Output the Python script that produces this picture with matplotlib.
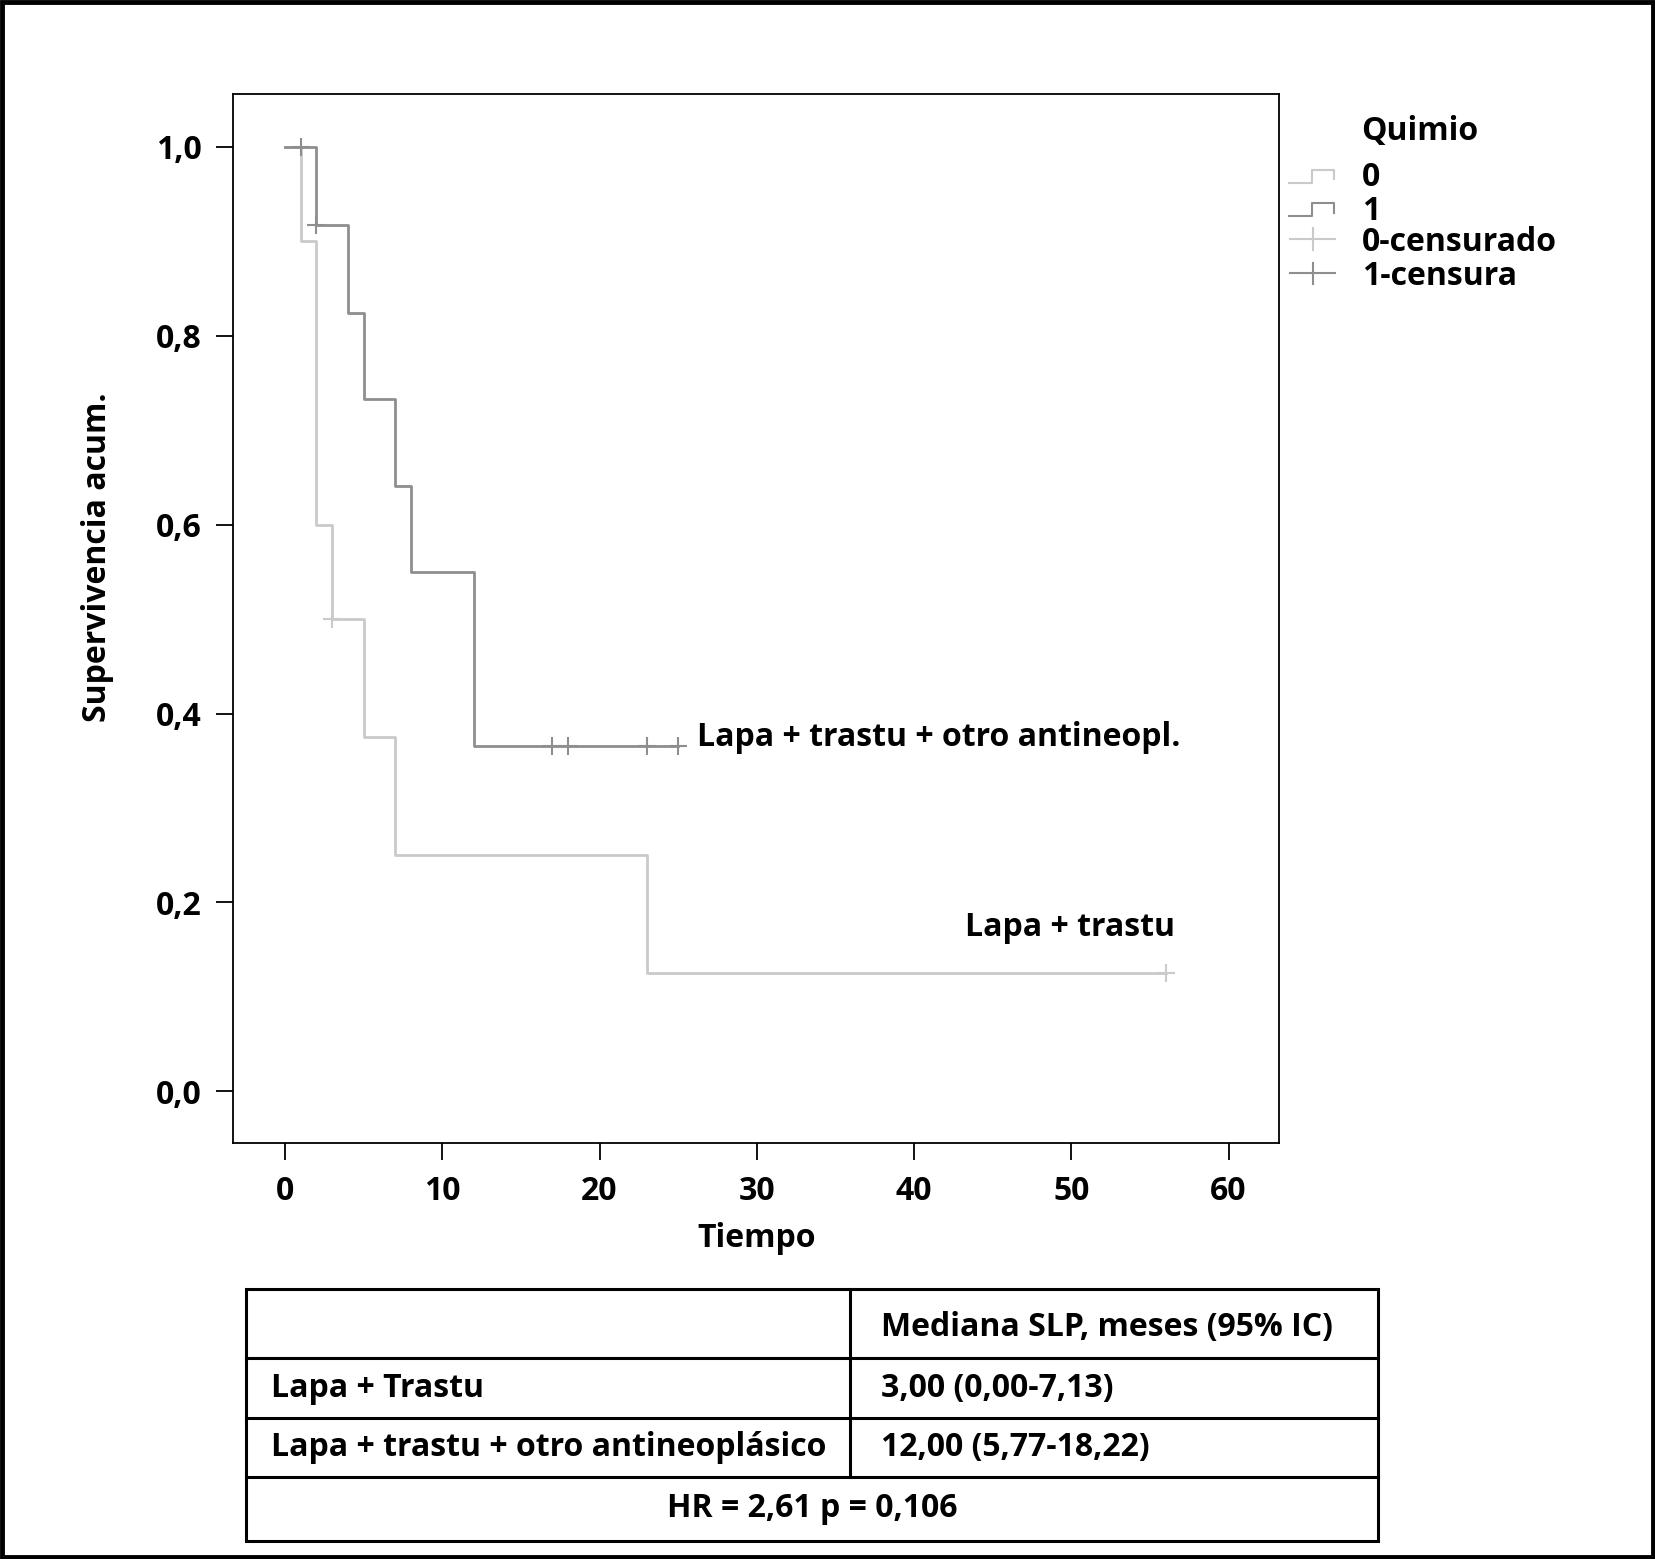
import matplotlib
matplotlib.use("Agg")
import matplotlib.pyplot as plt
from matplotlib.patches import Rectangle

plt.rcParams['font.family'] = ['Open Sans', 'DejaVu Sans']
plt.rcParams['font.weight'] = 'bold'
plt.rcParams['axes.labelweight'] = 'bold'

# ---------------- data ----------------
t0 = [0, 1, 2, 3, 5, 7, 23, 56]
s0 = [1.0, 0.9, 0.6, 0.5, 0.375, 0.25, 0.125, 0.125]
c0_t = [3, 56]
c0_s = [0.5, 0.125]

t1 = [0, 2, 4, 5, 7, 8, 12, 25]
s1 = [1.0, 0.917, 0.824, 0.733, 0.641, 0.55, 0.366, 0.366]
c1_t = [1, 2, 17, 18, 23, 25]
c1_s = [1.0, 0.917, 0.366, 0.366, 0.366, 0.366]

xticks = [0, 10, 20, 30, 40, 50, 60]
yticks = [0.0, 0.2, 0.4, 0.6, 0.8, 1.0]
ytick_labels = ["0,0", "0,2", "0,4", "0,6", "0,8", "1,0"]

legend_title = "Quimio"
legend_labels = ["0", "1", "0-censurado", "1-censura"]

table_header = ["", "Mediana SLP, meses (95% IC)"]
table_rows = [["Lapa + Trastu", "3,00 (0,00-7,13)"],
              ["Lapa + trastu + otro antineoplásico", "12,00 (5,77-18,22)"]]
table_footer = "HR = 2,61 p = 0,106"

C0 = "#cacaca"
C1 = "#8e8e92"
FS = 23

# ---------------- figure ----------------
W, H = 1568.0, 1477.0  # reference layout units
fig = plt.figure(figsize=(16.55, 15.59), dpi=100)

def fx(x):
    return x / W

def fy(y):
    return 1 - y / H

ax = fig.add_axes([fx(221), fy(1083), fx(1212) - fx(221), fy(89) - fy(1083)])
ax.step(t0, s0, where='post', color=C0, lw=2.0, zorder=2)
ax.step(t1, s1, where='post', color=C1, lw=2.0, zorder=3)
ax.plot(c0_t, c0_s, ls='none', marker='+', ms=13, mew=1.5, color=C0, zorder=2)
ax.plot(c1_t, c1_s, ls='none', marker='+', ms=13, mew=1.5, color=C1, zorder=3)

ax.set_xlim(-49 / 14.9, 60 + 48 / 14.9)
ax.set_ylim(-49 / 895, 1 + 50 / 895)
ax.set_xticks(xticks)
ax.set_yticks(yticks)
ax.set_yticklabels(ytick_labels)
ax.tick_params(axis='both', length=12, width=1.3, pad=11, labelsize=FS, color='black')
for sp in ax.spines.values():
    sp.set_linewidth(1.3)

ax.text(26.2, 0.375, "Lapa + trastu + otro antineopl.", fontsize=FS, ha='left', va='center')
ax.text(56.6, 0.174, "Lapa + trastu", fontsize=FS, ha='right', va='center')

ax.set_xlabel("Tiempo", fontsize=FS, fontweight='bold', labelpad=10)

# overlay in layout units
ov = fig.add_axes([0, 0, 1, 1], zorder=-1)
ov.set_xlim(0, W)
ov.set_ylim(H, 0)
ov.axis('off')

fig.text(fx(92), fy(528), "Supervivencia acum.", rotation=90, fontsize=FS,
         ha='center', va='center')

# legend
ov.text(1290, 125, legend_title, fontsize=FS, ha='left', va='center')
ov.plot([1221, 1243, 1243, 1264, 1264], [173, 173, 161, 161, 170], color=C0, lw=1.5)
ov.plot([1221, 1243, 1243, 1264, 1264], [205, 205, 192, 192, 202], color=C1, lw=1.5)
ov.plot([1222, 1265], [226, 226], color=C0, lw=1.5)
ov.plot([1244, 1244], [216, 237], color=C0, lw=1.5)
ov.plot([1222, 1265], [259, 259], color=C1, lw=1.5)
ov.plot([1244, 1244], [249, 269], color=C1, lw=1.5)
for lab, yy in zip(legend_labels, [168, 200, 230, 262]):
    ov.text(1290, yy, lab, fontsize=FS, ha='left', va='center')

# table
tl, tr = 233, 1306
rows_y = [1221, 1287, 1343, 1399, 1460]
colx = 805
lw_t = 2.2
ov.add_patch(Rectangle((tl, rows_y[0]), tr - tl, rows_y[-1] - rows_y[0],
                       fill=False, lw=lw_t, edgecolor='black'))
for yy in rows_y[1:-1]:
    ov.plot([tl, tr], [yy, yy], color='black', lw=lw_t)
ov.plot([colx, colx], [rows_y[0], rows_y[3]], color='black', lw=lw_t)

ov.text(835, (rows_y[0] + rows_y[1]) / 2 + 4, table_header[1], fontsize=FS, ha='left', va='center')
for i, (a, b) in enumerate(table_rows):
    yc = (rows_y[i + 1] + rows_y[i + 2]) / 2
    ov.text(257, yc, a, fontsize=FS, ha='left', va='center')
    ov.text(835, yc, b, fontsize=FS, ha='left', va='center')
ov.text((tl + tr) / 2, (rows_y[3] + rows_y[4]) / 2, table_footer, fontsize=FS,
        ha='center', va='center')

# outer frame
ov.add_patch(Rectangle((2, 2), W - 4, H - 4, fill=False, lw=3.5, edgecolor='black'))

fig.savefig("out.png", dpi=100)
